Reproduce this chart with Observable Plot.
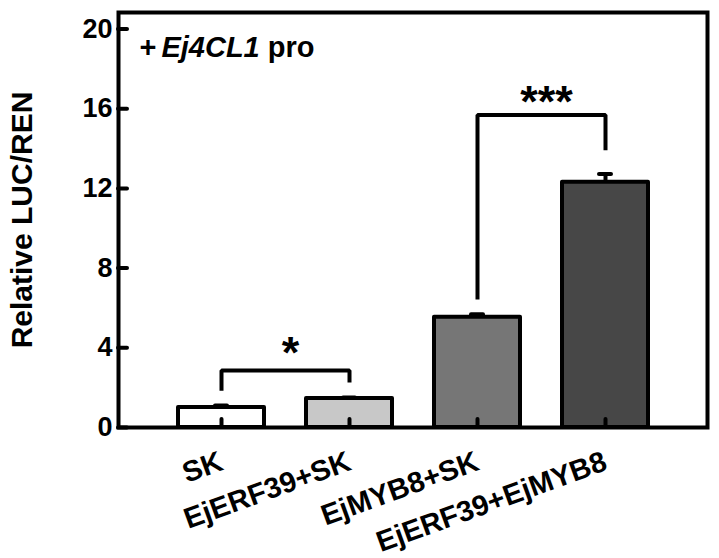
<!DOCTYPE html>
<html>
<head>
<meta charset="utf-8">
<script src="https://cdn.jsdelivr.net/npm/d3@7"></script>
<script src="https://cdn.jsdelivr.net/npm/@observablehq/plot@0.6"></script>
<style>
  html, body { margin: 0; padding: 0; background: #fff; }
</style>
</head>
<body>
<div id="chart"></div>
<script>
// ---- data ----
const categories = ["SK", "EjERF39+SK", "EjMYB8+SK", "EjERF39+EjMYB8"];
const values = [1.0, 1.46, 5.53, 12.31];
const errors = [0.1, 0.05, 0.15, 0.42];
const barColors = ["#ffffff", "#c8c8c8", "#767676", "#474747"];
const yTicks = [0, 4, 8, 12, 16, 20];
const yLabel = "Relative LUC/REN";
const promoterLabel = ["+", "Ej4CL1", " pro"];
// significance brackets
const bracketLeft = ["SK", "EjMYB8+SK"];
const bracketRight = ["EjERF39+SK", "EjERF39+EjMYB8"];
const bracketLeftLow = [1.85, 6.43];
const bracketTop = [2.86, 15.68];
const bracketRightLow = [2.26, 13.92];
const bracketStars = ["*", "***"];
const bracketStarY = [3.7, 16.3];

const rows = categories.map((c, i) => ({cat: c, value: values[i], err: errors[i]}));
const bracketLines = bracketLeft.flatMap((l, i) => [
  {id: i, x: l, y: bracketLeftLow[i]},
  {id: i, x: l, y: bracketTop[i]},
  {id: i, x: bracketRight[i], y: bracketTop[i]},
  {id: i, x: bracketRight[i], y: bracketRightLow[i]}
]);
const starRows = bracketLeft.map((l, i) => ({x: l, y: bracketStarY[i], t: bracketStars[i]}));

const W = 719, H = 558;
const mL = 118, mR = 12, mT = 12, mB = 131;
const frameW = W - mL - mR, frameH = H - mT - mB;
const font = "'Liberation Sans', Arial, Helvetica, sans-serif";

const plot = Plot.plot({
  width: W,
  height: H,
  marginLeft: mL,
  marginRight: mR,
  marginTop: mT,
  marginBottom: mB,
  style: {fontFamily: font, background: "#fff", color: "#000"},
  x: {domain: categories, paddingInner: 0.33, paddingOuter: 0.46, axis: null},
  y: {domain: [0, 20.83], axis: null},
  color: {domain: categories, range: barColors},
  marks: [
    Plot.barY(rows, {x: "cat", y: "value", fill: "cat", stroke: "#000", strokeWidth: 4, strokeLinejoin: "round"}),
    Plot.ruleX(rows, {x: "cat", y1: "value", y2: d => d.value + d.err, stroke: "#000", strokeWidth: 4}),
    Plot.tickY(rows, {x: "cat", y: d => d.value + d.err, stroke: "#000", strokeWidth: 4, strokeLinecap: "round", insetLeft: 37, insetRight: 37}),
    Plot.tickX(categories, {x: d => d, stroke: "#000", strokeWidth: 4, strokeLinecap: "round", insetTop: frameH - 8}),
    Plot.tickY(yTicks, {y: d => d, stroke: "#000", strokeWidth: 4, strokeLinecap: "round", insetRight: frameW - 9}),
    Plot.line(bracketLines, {x: "x", y: "y", z: "id", stroke: "#000", strokeWidth: 4, strokeLinejoin: "miter", strokeLinecap: "butt"}),
    Plot.text(starRows, {x: "x", y: "y", text: "t", dx: 69, fontSize: 45, fontWeight: "bold", fill: "#000"}),
    Plot.frame({stroke: "#000", strokeWidth: 4}),
    Plot.axisY({ticks: yTicks, tickSize: 0, tickPadding: 6, fontSize: 27, fontWeight: "bold", label: null, tickFormat: d => String(d)}),
    Plot.text([yLabel], {frameAnchor: "left", dx: -96, rotate: -90, textAnchor: "middle", lineAnchor: "middle", fontSize: 30, fontWeight: "bold", fill: "#000"}),
    Plot.text(categories, {x: d => d, y: 0, dy: 33, rotate: -20, textAnchor: "end", lineAnchor: "middle", fontSize: 29, fontWeight: "bold", fill: "#000"}),
    Plot.text([promoterLabel.join("")], {frameAnchor: "top-left", dx: 21, dy: 24, textAnchor: "start", lineAnchor: "top", fontSize: 29, fontWeight: "bold", fill: "#000", className: "promoter-title"})
  ]
});

// mixed italic in promoter title
const t = d3.select(plot).select("g.promoter-title text");
t.text(null);
t.append("tspan").text(promoterLabel[0]);
t.append("tspan").attr("dx", 5).attr("font-style", "italic").text(promoterLabel[1]);
t.append("tspan").text(promoterLabel[2]);

document.getElementById("chart").appendChild(plot);
</script>
</body>
</html>
